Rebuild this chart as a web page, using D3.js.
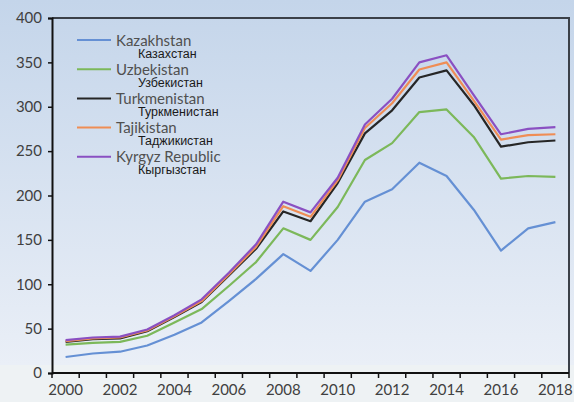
<!DOCTYPE html>
<html>
<head>
<meta charset="utf-8">
<script src="https://cdn.jsdelivr.net/npm/d3@7"></script>
<style>
  body { margin: 0; background: #eff3f4; }
  svg { display: block; }
</style>
</head>
<body>
<svg id="chart" width="574" height="402"></svg>
<script>
// Chart data
const years = [2000, 2001, 2002, 2003, 2004, 2005, 2006, 2007, 2008, 2009,
	2010, 2011, 2012, 2013, 2014, 2015, 2016, 2017, 2018];
const kazakhstan = [18, 22, 24, 31, 43, 57, 81, 106, 134, 115, 150, 193, 207, 237, 222, 184, 138, 163, 170];
const uzbekistan = [32, 34, 35, 42, 57, 72, 98, 125, 163, 150, 187, 240, 259, 294, 297, 266, 219, 222, 221];
const turkmenistan = [35, 38, 39, 47, 63, 80, 110, 140, 182, 171, 214, 270, 296, 333, 341, 302, 255, 260, 262];
const tajikistan = [36, 39, 40, 48, 64, 81, 111, 142, 188, 176, 217, 276, 304, 342, 350, 307, 263, 268, 269];
const kyrgyz = [37, 40, 41, 49, 65, 83, 113, 145, 193, 181, 220, 280, 309, 350, 358, 313, 269, 275, 277];
const seriesNames = ["Kazakhstan", "Uzbekistan", "Turkmenistan", "Tajikistan", "Kyrgyz Republic"];
const seriesNamesRu = ["Казахстан", "Узбекистан", "Туркменистан", "Таджикистан", "Кыргызстан"];
const yTicks = [0, 50, 100, 150, 200, 250, 300, 350, 400];
const xLabelYears = [2000, 2002, 2004, 2006, 2008, 2010, 2012, 2014, 2016, 2018];

const seriesValues = [kazakhstan, uzbekistan, turkmenistan, tajikistan, kyrgyz];
const colors = ["#6590d4", "#7cb85a", "#262626", "#ef8d55", "#8a50c2"];

const svg = d3.select("#chart");
const margin = { left: 52, right: 5, top: 18, bottom: 29 };
const width = 574, height = 402;

// Background gradient
const defs = svg.append("defs");
const grad = defs.append("linearGradient")
	.attr("id", "bg").attr("x1", 0).attr("y1", 0).attr("x2", 0).attr("y2", 1);
grad.append("stop").attr("offset", "0%").attr("stop-color", "#c4d5ea");
grad.append("stop").attr("offset", "100%").attr("stop-color", "#eaeff7");

svg.append("rect").attr("width", width).attr("height", height).attr("fill", "#eef2f4");
svg.append("rect").attr("width", width).attr("height", 365).attr("fill", "url(#bg)");

const x = d3.scaleBand()
	.domain(years)
	.range([margin.left, width - margin.right])
	.padding(0);

const y = d3.scaleLinear()
	.domain([0, 400])
	.range([height - margin.bottom, margin.top]);

// Frame (top and right)
svg.append("path")
	.attr("d", `M${x.range()[0]},${y(400)}H${x.range()[1]}V${y(0)}`)
	.attr("fill", "none")
	.attr("stroke", "#3b4048")
	.attr("stroke-width", 2);

// Lines
const line = d3.line()
	.x((d, i) => x(years[i]) + x.bandwidth() / 2)
	.y((d) => y(d));

seriesValues.forEach((vals, k) => {
	svg.append("path")
		.datum(vals)
		.attr("d", line)
		.attr("fill", "none")
		.attr("stroke", colors[k])
		.attr("stroke-width", 2.2)
		.attr("stroke-linejoin", "round");
});

// Y axis
const yAxis = d3.axisLeft(y).tickValues(yTicks).tickSize(4).tickPadding(6);
const gy = svg.append("g")
	.attr("transform", `translate(${margin.left},0)`)
	.call(yAxis);

// X axis: ticks on the category boundaries, labels every other year
const bounds = years.map((yr) => x(yr)).concat([x.range()[1]]);
const gx = svg.append("g").attr("transform", `translate(0,${y(0)})`);
gx.append("path")
	.attr("d", `M${x.range()[0]},0H${x.range()[1]}`)
	.attr("stroke", "#111").attr("stroke-width", 2);
gx.selectAll("line.tick")
	.data(bounds)
	.enter().append("line")
	.attr("class", "tick")
	.attr("x1", (d) => d).attr("x2", (d) => d)
	.attr("y1", 0).attr("y2", 5)
	.attr("stroke", "#111").attr("stroke-width", 1.5);
gx.selectAll("text")
	.data(xLabelYears)
	.enter().append("text")
	.attr("x", (d) => x(d) + x.bandwidth() / 2)
	.attr("y", 22)
	.attr("text-anchor", "middle")
	.attr("fill", "#404040")
	.style("font", "15px Lato, 'Open Sans', sans-serif")
	.text((d) => d);

gy.select(".domain").attr("stroke", "#111").attr("stroke-width", 2);
gy.selectAll(".tick line").attr("stroke", "#111").attr("stroke-width", 1.5);
gy.selectAll(".tick text")
	.attr("fill", "#404040")
	.style("font", "15px Lato, 'Open Sans', sans-serif");

// Legend
const legend = svg.append("g");
seriesNames.forEach((name, k) => {
	const ly = 40 + k * 29.2;
	legend.append("line")
		.attr("x1", 77).attr("x2", 111)
		.attr("y1", ly).attr("y2", ly)
		.attr("stroke", colors[k]).attr("stroke-width", 2);
	legend.append("text")
		.attr("x", 116).attr("y", ly + 5.5)
		.attr("fill", "#505050")
		.style("font", "15px Lato, 'Open Sans', sans-serif")
		.text(name);
	legend.append("text")
		.attr("x", 138).attr("y", ly + 17.5)
		.attr("fill", "#1a1a1a")
		.style("font", "12.5px 'Liberation Sans', Arial, sans-serif")
		.text(seriesNamesRu[k]);
});
</script>
</body>
</html>
